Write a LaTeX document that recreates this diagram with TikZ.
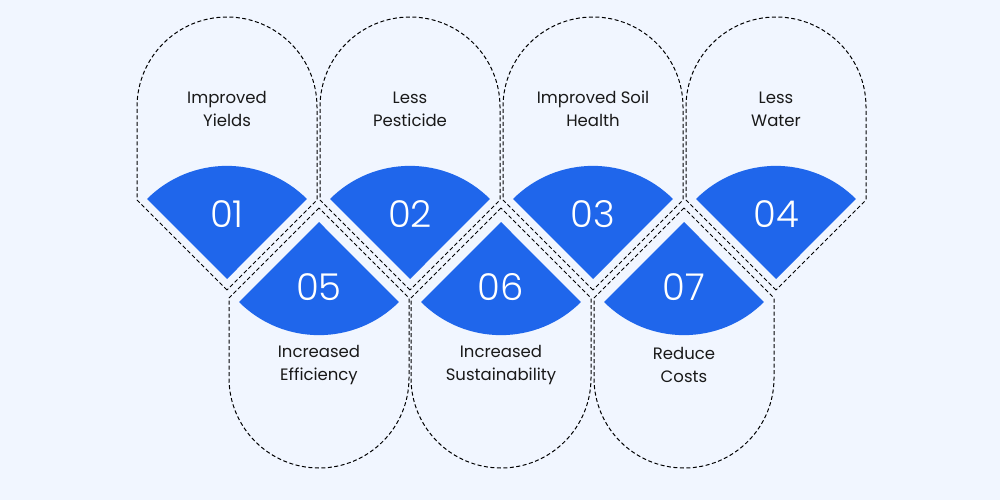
\documentclass[tikz,border=0pt]{standalone}
\usepackage{fontspec}
\setmainfont{Poppins}
\newfontfamily\numfont{Poppins Light}
\definecolor{bg}{HTML}{F1F6FF}
\definecolor{bl}{HTML}{1F66EB}
\begin{document}
\begin{tikzpicture}[x=1pt,y=-1pt,
 outl/.style={draw=black,line width=1pt,dash pattern=on 4pt off 2.5pt},
 wedge/.style={fill=bl,draw=none},
 num/.style={text=white,font=\numfont\fontsize{37}{37}\selectfont},
 lbl/.style={align=center,font=\fontsize{16.5}{23}\selectfont,text=black!90}]
\fill[bg] (0,0) rectangle (1000,500);
\useasboundingbox (0,0) rectangle (1000,500);
\foreach \c/\n/\t [count=\i] in {227/01/{Improved\\Yields},410/02/{Less\\Pesticide},593/03/{Improved Soil\\Health},776/04/{Less\\Water}}{
  \draw[outl] (\c,290) -- ++(-90,-90) -- ++(0,-93) arc[start angle=180,end angle=360,radius=90] -- ++(0,93) -- cycle;
  \fill[wedge] (\c,279) -- ++(-80,-80) arc[start angle=225,end angle=315,radius=113.1] -- cycle;
  \node[lbl] (t\i) at (\c,109) {\t};
}
\foreach \c/\n/\t [count=\i from 5] in {319/05/{Increased\\Efficiency},501/06/{Increased\\Sustainability},684/07/{Reduce\\Costs}}{
  \draw[outl] (\c,208) -- ++(-90,90) -- ++(0,80) arc[start angle=180,end angle=0,radius=90] -- ++(0,-80) -- cycle;
  \fill[wedge] (\c,222) -- ++(-80,80) arc[start angle=135,end angle=45,radius=113.1] -- cycle;
  \node[lbl] (t\i) at (\c,365) {\t};
}
\foreach \c/\n [count=\i] in {227/01,410/02,593/03,776/04}
  \node[num] (n\i) at (\c,214) {\n};
\foreach \c/\n [count=\i from 5] in {319/05,501/06,684/07}
  \node[num] (n\i) at (\c,287) {\n};
\end{tikzpicture}
\end{document}
